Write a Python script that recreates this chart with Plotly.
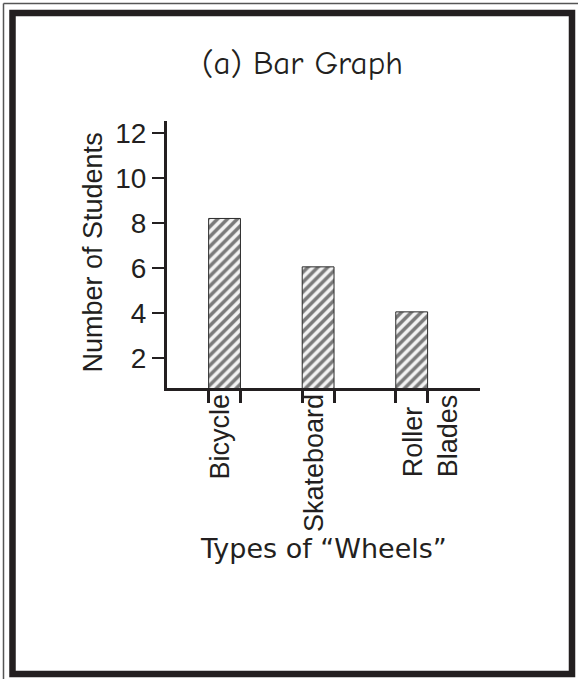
import plotly.graph_objects as go

# ---- data ----
categories = ["Bicycle", "Skateboard", "Roller<br>Blades"]
students = [8.2, 6.05, 4.05]
y_ticks = [2, 4, 6, 8, 10, 12]
title_text = "(a) Bar Graph"
y_title = "Number of Students"
x_title = "Types of “Wheels”"

# ---- layout geometry (pixels) ----
W, H = 578, 679
L, R, T, B = 167, 480, 121, 388          # plot-area edges
PW, PH = R - L, B - T
BAR_W = 0.34
INK = "#231f20"
SANS = "Liberation Sans, Arial, Helvetica, sans-serif"


def px(x):
    return (x - L) / PW


def py(y):
    return (B - y) / PH


pos = list(range(len(categories)))
edge_ticks = []
for p in pos:
    edge_ticks += [p - BAR_W / 2, p + BAR_W / 2]

fig = go.Figure()
fig.add_trace(go.Bar(
    x=pos, y=students, width=BAR_W,
    marker=dict(color="white",
                line=dict(color="#2a2a2a", width=1),
                pattern=dict(shape="/", fgcolor="#000000", bgcolor="#f4f4f4",
                             size=7, solidity=0.5)),
    hoverinfo="skip",
))

annotations = []
# category labels (rotated)
shifts = [-5, -4, 19]
for p, c, s in zip(pos, categories, shifts):
    annotations.append(dict(
        x=p, y=0, xref="x", yref="paper", text=c, textangle=-90,
        showarrow=False, xanchor="center", yanchor="top", yshift=-4,
        xshift=s, align="left", font=dict(family=SANS, size=27, color=INK)))

annotations.append(dict(
    x=px(92), y=py(252.5), xref="paper", yref="paper", text=y_title,
    textangle=-90, showarrow=False, xanchor="center", yanchor="middle",
    font=dict(family=SANS, size=27, color=INK)))
annotations.append(dict(
    x=px(323.5), y=py(548), xref="paper", yref="paper", text=x_title,
    showarrow=False, xanchor="center", yanchor="middle",
    font=dict(family="DejaVu Sans, " + SANS, size=27, color=INK)))
annotations.append(dict(
    x=px(302), y=py(63), xref="paper", yref="paper", text=title_text,
    showarrow=False, xanchor="center", yanchor="middle",
    font=dict(family="Comic Sans MS, Comic Neue, Noto Sans, sans-serif",
              size=33, color=INK)))

shapes = [
    # thick black frame
    dict(type="rect", xref="paper", yref="paper",
         x0=px(12.5), x1=px(572), y0=py(674), y1=py(13),
         line=dict(color=INK, width=6.5), layer="above"),
    # thin outer line (left and top)
    dict(type="line", xref="paper", yref="paper",
         x0=px(3.5), x1=px(3.5), y0=py(700), y1=py(3.5),
         line=dict(color="#555555", width=1.5)),
    dict(type="line", xref="paper", yref="paper",
         x0=px(3.5), x1=px(600), y0=py(3.5), y1=py(3.5),
         line=dict(color="#555555", width=1.5)),
]

fig.update_layout(
    width=W, height=H,
    margin=dict(l=L, r=W - R, t=T, b=H - B, pad=0),
    paper_bgcolor="white", plot_bgcolor="white",
    showlegend=False,
    annotations=annotations, shapes=shapes,
    xaxis=dict(range=[-0.615, 2.73], showgrid=False, zeroline=False,
               showline=True, linecolor=INK, linewidth=3,
               tickvals=edge_ticks, ticks="outside", ticklen=12,
               tickwidth=3, tickcolor=INK, showticklabels=False,
               fixedrange=True),
    yaxis=dict(range=[0.667, 12.53], showgrid=False, zeroline=False,
               showline=True, linecolor=INK, linewidth=3,
               tickvals=y_ticks, ticks="outside", ticklen=12, tickwidth=2,
               tickcolor=INK, tickfont=dict(family=SANS, size=28, color=INK),
               fixedrange=True),
)

fig.write_html("out.html", config={"displayModeBar": False},
               post_script="document.body.style.margin='0';"
                           "document.body.style.overflow='hidden';")
